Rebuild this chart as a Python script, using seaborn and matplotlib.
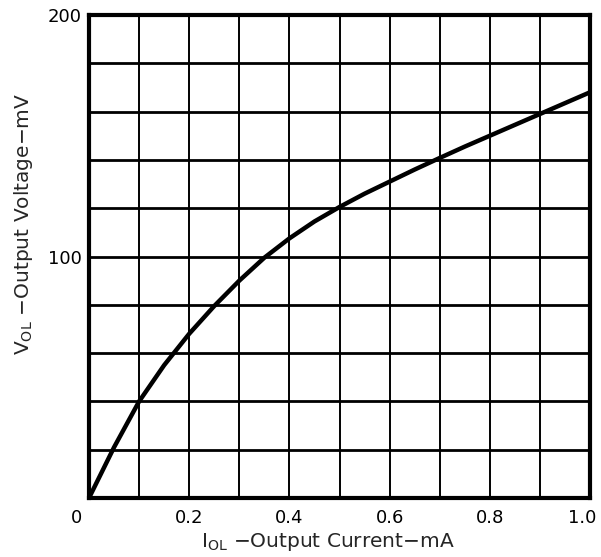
import numpy as np
import matplotlib
matplotlib.use("Agg")
import matplotlib.pyplot as plt
import matplotlib.transforms as mtrans
import seaborn as sns

current_ma = [0.00, 0.05, 0.10, 0.15, 0.20, 0.25, 0.30, 0.35, 0.40, 0.45, 0.50,
              0.55, 0.60, 0.65, 0.70, 0.75, 0.80, 0.85, 0.90, 0.95, 1.00]
voltage_mv = [0, 21, 40, 55, 68, 79.5, 90, 99.5, 107.5, 114.5, 120.5,
              126, 131, 136, 140.8, 145.5, 150, 154.5, 159, 163.5, 168]

x_ticks = [0.0, 0.1, 0.2, 0.3, 0.4, 0.5, 0.6, 0.7, 0.8, 0.9, 1.0]
x_tick_labels = ["0", "", "0.2", "", "0.4", "", "0.6", "", "0.8", "", "1.0"]
y_ticks = [0, 20, 40, 60, 80, 100, 120, 140, 160, 180, 200]
y_tick_labels = ["", "", "", "", "", "100", "", "", "", "", "200"]

sns.set_style("white")
plt.rcParams["font.family"] = ["DejaVu Sans"]
plt.rcParams["mathtext.fontset"] = "dejavusans"

fig = plt.figure(figsize=(6.01, 5.57), dpi=100)
W, H = 601, 557
ax = fig.add_axes([89/W, 59/H, 501/W, 483/H])

sns.lineplot(x=current_ma, y=voltage_mv, ax=ax, color="black", linewidth=3.2,
             zorder=5, solid_joinstyle="round", solid_capstyle="round")

ax.set_xlim(0, 1.0)
ax.set_ylim(0, 200)
ax.set_xticks(x_ticks)
ax.set_xticklabels(x_tick_labels)
ax.set_yticks(y_ticks)
ax.set_yticklabels(y_tick_labels)
ax.tick_params(axis="both", length=0, labelsize=13, colors="black")
ax.tick_params(axis="x", pad=8)
ax.tick_params(axis="y", pad=5)

# shift the corner labels inward, as in the reference
xlabels = ax.get_xticklabels()
xlabels[0].set_transform(xlabels[0].get_transform() + mtrans.ScaledTranslation(-13/100, 0, fig.dpi_scale_trans))
xlabels[-1].set_transform(xlabels[-1].get_transform() + mtrans.ScaledTranslation(-8/100, 0, fig.dpi_scale_trans))

ax.xaxis.grid(True, color="black", linewidth=1.4)
ax.yaxis.grid(True, color="black", linewidth=2.0)

for s in ax.spines.values():
    s.set_visible(True)
    s.set_color("black")
    s.set_linewidth(3)

ax.set_xlabel("$\\mathregular{I_{OL}}$ \u2212Output Current\u2212mA", fontsize=14.5)
ax.set_ylabel("$\\mathregular{V_{OL}}$ \u2212Output Voltage\u2212mV", fontsize=14.5)

# label positions in axes coordinates (from pixel positions)
ax.xaxis.set_label_coords((328 - 89) / 501, (498 - 542) / 483)
ax.xaxis.label.set_va("center")
ax.yaxis.set_label_coords((24 - 89) / 501, (498 - 224) / 483)
ax.yaxis.label.set_va("center")

fig.savefig("out.png", dpi=100, facecolor="white")
